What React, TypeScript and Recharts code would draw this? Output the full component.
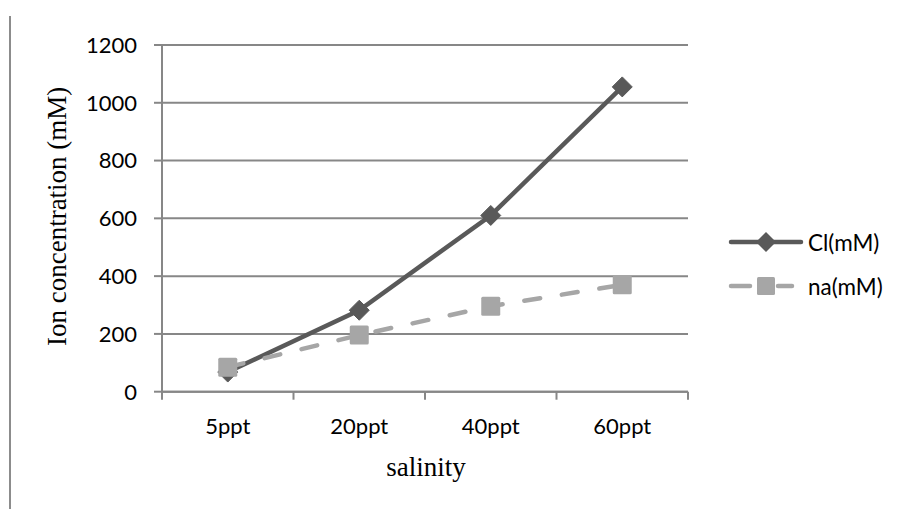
import React from 'react';
import { LineChart, Line, XAxis, YAxis, CartesianGrid } from 'recharts';

const categories = ['5ppt', '20ppt', '40ppt', '60ppt'];
const clValues = [68, 282, 610, 1055];
const naValues = [85, 196, 296, 370];
const yTicks = [0, 200, 400, 600, 800, 1000, 1200];

const data = categories.map((name, i) => ({ name, cl: clValues[i], na: naValues[i] }));

const W = 900;
const H = 501;
const PLOT_LEFT = 154;
const PLOT_RIGHT = 680;
const PLOT_TOP = 37;
const PLOT_BOTTOM = 383.7;
const STEP = (PLOT_RIGHT - PLOT_LEFT) / categories.length;

const AXIS = '#878787';
const DARK = '#595959';
const LIGHT = '#a6a6a6';
const SANS = 'Lato, "Open Sans", sans-serif';
const SERIF = '"Liberation Serif", "Times New Roman", serif';

const Diamond = (props: any) => {
  const { cx, cy } = props;
  if (cx == null || cy == null) return null;
  const r = 10;
  return (
    <path
      d={`M${cx},${cy - r} L${cx + r},${cy} L${cx},${cy + r} L${cx - r},${cy} Z`}
      fill={DARK}
      stroke={DARK}
      strokeWidth={1}
      strokeLinejoin="round"
    />
  );
};

const Square = (props: any) => {
  const { cx, cy } = props;
  if (cx == null || cy == null) return null;
  const s = 19;
  return <rect x={cx - s / 2} y={cy - s / 2} width={s} height={s} rx={1.5} fill={LIGHT} />;
};

// category labels, with tick marks between the categories
const CategoryTick = (props: any) => {
  const { x, y, payload, index } = props;
  const last = index === categories.length - 1;
  return (
    <g>
      <line x1={x - STEP / 2} x2={x - STEP / 2} y1={y} y2={y + 8} stroke={AXIS} strokeWidth={2} />
      {last && <line x1={x + STEP / 2} x2={x + STEP / 2} y1={y} y2={y + 8} stroke={AXIS} strokeWidth={2} />}
      <text x={x} y={y + 42} textAnchor="middle" fill="#000" fontFamily={SANS} fontSize={22}>
        {payload.value}
      </text>
    </g>
  );
};

const YTitle = (props: any) => {
  const { viewBox } = props;
  const cx = 58.5;
  const cy = viewBox.y + viewBox.height / 2 - 2;
  return (
    <text
      x={cx}
      y={cy}
      transform={`rotate(-90 ${cx} ${cy})`}
      textAnchor="middle"
      fontFamily={SERIF}
      fontSize={27}
      fill="#000"
    >
      Ion concentration (mM)
    </text>
  );
};

const XTitle = (props: any) => {
  const { viewBox } = props;
  return (
    <text
      x={viewBox.x + viewBox.width / 2 + 1}
      y={viewBox.y + 84.3}
      textAnchor="middle"
      fontFamily={SERIF}
      fontSize={27}
      fill="#000"
    >
      salinity
    </text>
  );
};

const LegendBox = () => (
  <svg width={180} height={84} style={{ position: 'absolute', left: 720, top: 214 }}>
    <line x1={3} x2={73} y1={20} y2={20} stroke={DARK} strokeWidth={4.5} strokeLinecap="round" />
    <path d="M38,10 L48,20 L38,30 L28,20 Z" fill={DARK} />
    <text x={80} y={20} dominantBaseline="central" fontFamily={SANS} fontSize={22.5} fill="#000">
      Cl(mM)
    </text>
    <line x1={3} x2={22} y1={64} y2={64} stroke={LIGHT} strokeWidth={4.5} strokeLinecap="round" />
    <line x1={50} x2={64} y1={64} y2={64} stroke={LIGHT} strokeWidth={4.5} strokeLinecap="round" />
    <rect x={29} y={55} width={18} height={18} rx={1.5} fill={LIGHT} />
    <text x={80} y={64} dominantBaseline="central" fontFamily={SANS} fontSize={22.5} fill="#000">
      na(mM)
    </text>
  </svg>
);

export default function App() {
  return (
    <div style={{ position: 'relative', width: W, height: H }}>
      <div
        style={{ position: 'absolute', left: 1, top: 8, width: 2, height: H - 8, background: '#8c8c8c' }}
      />
      <LineChart
        width={W}
        height={H}
        data={data}
        margin={{ top: PLOT_TOP, right: W - PLOT_RIGHT, bottom: H - PLOT_BOTTOM - 30, left: PLOT_LEFT - 60 }}
      >
        <CartesianGrid vertical={false} stroke={AXIS} strokeWidth={2} />
        <XAxis
          dataKey="name"
          height={30}
          padding={{ left: STEP / 2, right: STEP / 2 }}
          axisLine={{ stroke: AXIS, strokeWidth: 2 }}
          tickLine={false}
          tickSize={0}
          tickMargin={0}
          tick={<CategoryTick />}
          interval={0}
          label={<XTitle />}
        />
        <YAxis
          width={60}
          domain={[0, 1200]}
          ticks={yTicks}
          interval={0}
          axisLine={{ stroke: AXIS, strokeWidth: 2 }}
          tickLine={{ stroke: AXIS, strokeWidth: 2 }}
          tickSize={8}
          tickMargin={17}
          tick={{ fill: '#000', fontFamily: SANS, fontSize: 22 }}
          label={<YTitle />}
        />
        <Line
          type="linear"
          dataKey="cl"
          stroke={DARK}
          strokeWidth={4.5}
          dot={<Diamond />}
          activeDot={false}
          isAnimationActive={false}
        />
        <Line
          type="linear"
          dataKey="na"
          stroke={LIGHT}
          strokeWidth={4.5}
          strokeDasharray="16 22"
          strokeLinecap="round"
          dot={<Square />}
          activeDot={false}
          isAnimationActive={false}
        />
      </LineChart>
      <LegendBox />
    </div>
  );
}
